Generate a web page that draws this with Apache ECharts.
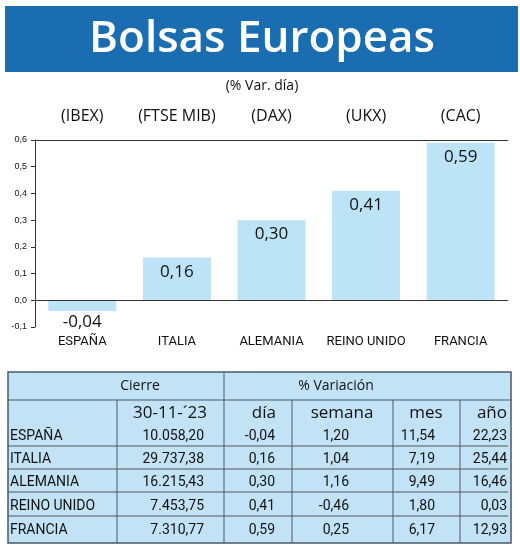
<!DOCTYPE html>
<html><head><meta charset="utf-8">
<script src="https://cdn.jsdelivr.net/npm/echarts@6/dist/echarts.min.js"></script>
<style>html,body{margin:0;padding:0;background:#fff}#c{width:520px;height:550px}</style>
</head><body><div id="c"></div>
<script>
var countries = ['ESPAÑA','ITALIA','ALEMANIA','REINO UNIDO','FRANCIA'];
var indices = ['(IBEX)','(FTSE MIB)','(DAX)','(UKX)','(CAC)'];
var dayVar = [-0.04,0.16,0.30,0.41,0.59];
var cierre = ['10.058,20','29.737,38','16.215,43','7.453,75','7.310,77'];
var dia = ['-0,04','0,16','0,30','0,41','0,59'];
var semana = ['1,20','1,04','1,16','-0,46','0,25'];
var mes = ['11,54','7,19','9,49','1,80','6,17'];
var anio = ['22,23','25,44','16,46','0,03','12,93'];
var refLines = [0, 0.6];

var fmt = function(v){return v.toFixed(2).replace('.',',');};
var NARROW = '"Liberation Sans Narrow","Roboto",sans-serif';
var SANS = '"Open Sans","Lato",sans-serif';

var g = [];
g.push({type:'rect',shape:{x:5,y:6,width:513,height:66},style:{fill:'#1a6db0'}});
g.push({type:'text',x:262,y:39,style:{text:'Bolsas Europeas',font:'600 44px '+SANS,fill:'#fff',align:'center',verticalAlign:'middle'}});
g.push({type:'text',x:262,y:86,style:{text:'(% Var. día)',font:'14px '+SANS,fill:'#111',align:'center',verticalAlign:'middle'}});
var T={x:8,y:372,w:503,h:171};
g.push({type:'rect',shape:{x:T.x,y:T.y,width:T.w,height:T.h},style:{fill:'#c2e3f6',stroke:'#4a5a66',lineWidth:1.5}});
var line=function(x1,y1,x2,y2,c,w){g.push({type:'line',shape:{x1:x1,y1:y1,x2:x2,y2:y2},style:{stroke:c||'#4a5a66',lineWidth:w||1}});};
line(8,400,511,400);
line(224,372,224,543);
[117,292,393,460].forEach(function(x){line(x,400,x,543);});
var rowY=[436,459,482,506,530];
var txt=function(t,x,y,align,size,font,extra){g.push({type:'text',x:x,y:y,style:{text:t,font:(size||15)+'px '+(font||SANS),fill:'#111',align:align,verticalAlign:'middle'}});};
txt('Cierre',140,386,'center',16,'500 '+SANS);
txt('% Variación',336,386,'center',16,'500 '+SANS);
txt('30-11-´23',170,413,'center',17);
txt('día',276,413,'right',17);
txt('semana',342,413,'center',17);
txt('mes',426,413,'center',17);
txt('año',507,413,'right',17);
for(var i=0;i<countries.length;i++){
  var y=rowY[i];
  txt(countries[i],10,y,'left',14,NARROW);
  txt(cierre[i],204,y,'right',14,NARROW);
  txt(dia[i],275,y,'right',14,NARROW);
  txt(semana[i],349,y,'right',14,NARROW);
  txt(mes[i],435,y,'right',14,NARROW);
  txt(anio[i],507,y,'right',14,NARROW);
  if(i<4) line(8,y+10,508,y+10,'#555',1);
}

var chart=echarts.init(document.getElementById('c'));
chart.setOption({
  animation:false,
  graphic:g,
  grid:{left:35,right:12,top:140,bottom:223},
  xAxis:[{type:'category',data:countries,axisLine:{show:false},axisTick:{show:false},
    position:'bottom',axisLabel:{margin:8,fontSize:13,color:'#111',fontFamily:NARROW,interval:0}},
   {type:'category',data:indices,position:'top',axisLine:{show:false},axisTick:{show:false},
    axisLabel:{margin:16,fontSize:16,color:'#111',fontFamily:SANS,interval:0}}],
  yAxis:{type:'value',min:-0.1,max:0.6,interval:0.1,
    axisLine:{show:true,lineStyle:{color:'#333'}},axisTick:{show:true,length:4,lineStyle:{color:'#333'}},
    axisLabel:{fontSize:9,color:'#111',margin:8,formatter:function(v){return v.toFixed(1).replace('.',',');}},
    splitLine:{show:false}},
  series:[{type:'bar',data:dayVar.map(function(v){
      return {value:v,label:v<0?{position:'bottom',distance:3}:{position:'insideTop',distance:6}};}),
    barWidth:68,itemStyle:{color:'#bde3f7'},z:3,
    markLine:{silent:true,symbol:'none',label:{show:false},lineStyle:{color:'#333',type:'solid',width:1},
      data:refLines.map(function(v){return {yAxis:v};})},
    label:{show:true,formatter:function(p){return fmt(p.value);},fontSize:17,color:'#111',fontFamily:SANS}}]
});
</script></body></html>
